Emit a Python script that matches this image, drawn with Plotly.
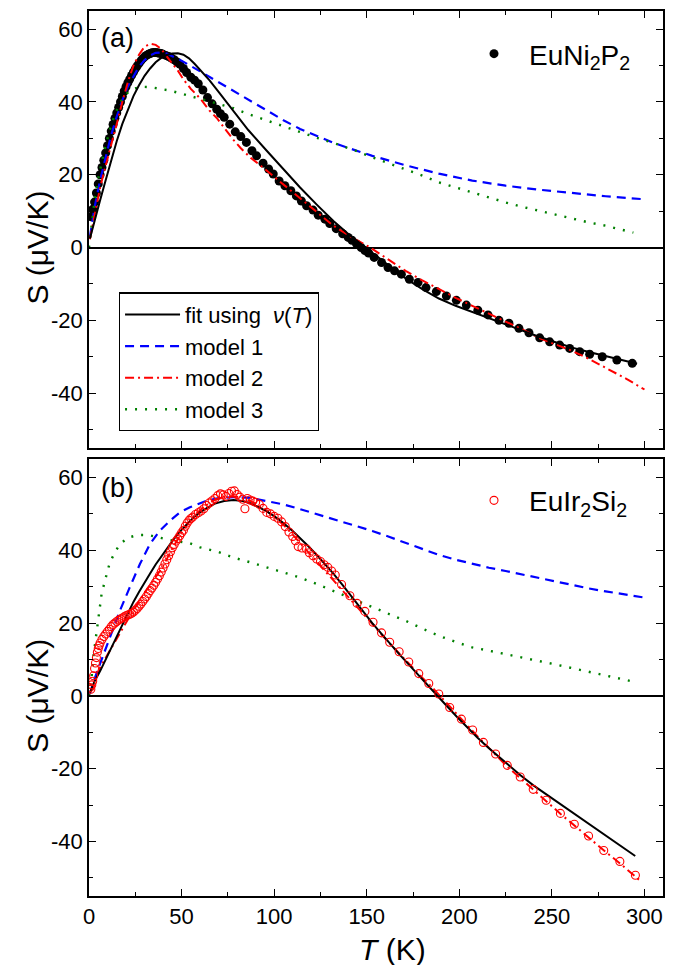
import plotly.graph_objects as go

# ---------------- Panel (a): EuNi2P2 ----------------
a_data_T = [1, 2, 3, 4, 5, 6, 7, 8, 9, 10, 11, 12, 13, 14, 15, 16, 17, 18, 19, 20,
            21, 22, 23, 24, 25, 26, 27, 28, 29, 30, 31, 32, 33, 34, 35, 36, 37, 38, 39, 40,
            41.5, 43, 44.5, 46, 47.5, 49, 51, 52.7, 55, 57, 59, 61.5, 64, 66.5, 69, 71, 73,
            76, 79, 82, 85, 88, 90.5, 94, 97, 99.5, 102.7, 105.8, 109, 112, 114.7, 117.5,
            121, 123.8, 127.4, 130, 133.5, 137, 140, 142, 144.5, 147, 149, 151, 154, 158,
            161.5, 165, 168.7, 173, 177.7, 182, 187.6, 193, 198.4, 203.8, 210, 215.5,
            221.4, 226.8, 232.2, 237.6, 243.4, 248.8, 254.2, 259.6, 265, 270.4, 277.2,
            285.1, 293.4]
a_data_S = [8.5, 10.5, 12.5, 15, 17.5, 20, 22, 24, 26, 28, 30, 32, 33.8, 35.5, 37, 38.5,
            40, 41.5, 43, 44.2, 45.3, 46.3, 47.3, 48.2, 49.1, 49.9, 50.6, 51.3, 51.9, 52.4,
            52.8, 53.1, 53.3, 53.5, 53.6, 53.6, 53.5, 53.4, 53.3, 53.1, 52.8, 52.5, 52.1,
            51.6, 51.0, 50.4, 49.2, 48.1, 46.8, 46.0, 45.0, 43.3, 41.2, 39.5, 38.0, 36.8,
            35.8, 33.9, 31.8, 30.5, 28.9, 26.6, 25.2, 23.2, 21.6, 20.2, 18.3, 17.0, 15.6,
            14.2, 12.8, 11.5, 10.3, 8.9, 7.8, 6.6, 5.2, 3.8, 2.8, 2.0, 1.0, 0.0, -0.8, -1.5,
            -2.7, -4.1, -5.5, -6.4, -7.3, -8.7, -9.6, -11.0, -12.1, -13.3, -14.5, -15.8,
            -17.2, -18.5, -20.0, -20.8, -22.2, -23.4, -24.8, -25.9, -26.8, -27.7, -28.6,
            -29.3, -30.0, -30.9, -31.8]

a_fit_T = [0.5, 3, 6, 9, 12, 15, 18, 21, 24, 27, 30, 33, 36, 39, 42, 45, 48, 51, 54, 57,
           60, 65, 70, 78, 86, 96, 105, 114, 123, 132, 141, 150, 160, 171, 180, 189, 198,
           207, 216, 225, 234, 243, 252, 261, 270, 279, 288, 296]
a_fit_S = [2.5, 7.5, 13, 18.5, 24, 29.3, 34, 38, 41.6, 44.6, 47.2, 49.2, 50.9, 52.1, 52.9,
           53.3, 53.4, 53.0, 52.0, 50.5, 48.8, 46.0, 42.8, 37.6, 32.3, 26.6, 21.4, 16.5,
           11.8, 7.3, 3.3, -0.2, -4.3, -8.5, -11.4, -14.0, -16.0, -17.7, -19.5, -21.3,
           -22.9, -24.5, -26.0, -27.5, -28.7, -29.8, -30.9, -31.9]

a_m1_T = [0.5, 3, 6, 9, 12, 15, 18, 21, 24, 27, 30, 33, 36, 39, 42, 45, 49, 54, 60, 70,
          78, 86, 96, 105, 114, 123, 132, 141, 153, 171, 189, 207, 225, 243, 261, 279, 299]
a_m1_S = [3, 11, 18.5, 24.5, 31, 36, 40.5, 44.3, 47.2, 49.7, 51.5, 52.8, 53.5, 53.6, 53.3,
          52.6, 51.6, 50.2, 48.4, 45.5, 43.1, 40.7, 37.7, 35.0, 32.6, 30.6, 28.8, 27.2,
          25.2, 22.6, 20.3, 18.4, 17.0, 15.9, 14.9, 14.1, 13.3]

a_m2_T = [0.5, 3, 6, 9, 12, 15, 18, 21, 24, 27, 30, 33, 36, 39, 42, 45, 48, 51, 55, 60,
          65, 69, 74, 78, 82, 87, 92, 96, 105, 114, 123, 132, 142, 152, 162, 171, 180, 189,
          198, 207, 216, 225, 234, 243, 252, 261, 270, 279, 290, 300]
a_m2_S = [2.3, 9, 16.5, 22.5, 28, 34, 40, 45.5, 50, 53, 55.2, 56, 55.7, 54.6, 52.5, 50.5,
          48.6, 46.2, 43.6, 41.0, 37.7, 35.6, 32.2, 29.6, 27.3, 24.8, 22.8, 21.1, 17.5,
          13.5, 9.7, 6.0, 2.8, 0.0, -3.4, -6.4, -9.0, -11.5, -13.8, -16.0, -18.1, -20.2,
          -22.5, -24.8, -26.6, -28.4, -30.6, -33.0, -36.0, -39.0]

a_m3_T = [0, 1.5, 3, 5, 8, 11, 14, 17, 20, 24, 28, 33, 38, 44, 50, 60, 70, 78, 87, 96,
          105, 114, 124, 134, 143, 153, 162, 171, 180, 189, 198, 207, 216, 225, 234, 243,
          252, 261, 270, 279, 287, 294]
a_m3_S = [0, 7, 13, 19, 26, 32, 36.7, 40, 42.2, 43.6, 44.2, 44.1, 43.7, 43.1, 42.3, 40.8,
          39.5, 38.3, 36.5, 34.9, 33.3, 31.6, 30.0, 28.4, 26.8, 24.8, 23.2, 21.6, 19.8,
          17.9, 16.5, 15.1, 13.7, 12.4, 11.2, 10.1, 8.9, 7.8, 6.9, 6.0, 5.0, 4.1]

# ---------------- Panel (b): EuIr2Si2 ----------------
b_data_T = [0.5, 1, 1.5, 2, 2.5, 3, 3.5, 4, 4.5, 5, 5.5, 6, 7, 8, 9, 10, 11, 12, 13, 14,
            15, 16, 17, 18, 19, 20, 21, 22, 23, 24, 25, 26, 27, 28, 29, 30, 31, 32, 33,
            34, 35, 36, 37, 38, 39, 40, 41, 42, 43, 44, 45, 46, 47, 48, 49, 50, 51, 52,
            53, 54, 55, 56, 57.5, 59, 60.5, 62, 63.5, 65, 66.5, 68, 69.5, 71, 72.5, 74,
            75.5, 77, 78.5, 80, 81.5, 83, 84.2, 85.5, 87, 88.5, 90, 92, 94, 96, 98, 100,
            102, 104, 106, 108, 110, 111.5, 113, 115, 117.5, 119, 121, 123, 125, 127,
            129, 131, 133, 136.4, 140.9, 144.8, 149, 153.4, 158, 162.4, 167.5, 172.7,
            178.1, 183.5, 188.9, 194.8, 201.1, 207.2, 213, 219.6, 225.9, 232.9, 239.9,
            246.9, 254.6, 262.1, 269.8, 278, 286.7, 295.1]
b_data_S = [2.3, 1.8, 3, 4, 5.5, 7.5, 9, 10.5, 12, 13, 13.8, 14.5, 15.5, 16.3, 17, 17.7,
            18.3, 19, 19.6, 20, 20.4, 20.8, 21.1, 21.4, 21.7, 22, 22.2, 22.4, 22.7, 23,
            23.5, 24, 24.6, 25.2, 25.9, 26.6, 27.3, 28.1, 28.9, 29.6, 30.4, 31.2, 32.1, 33,
            34, 35.1, 36.2, 37.4, 38.5, 39.6, 40.7, 41.6, 42.5, 43.2, 44, 44.8, 45.5, 46.6,
            47.5, 48.2, 48.7, 49.1, 49.8, 50.3, 50.8, 51.4, 52.3, 53, 53.6, 54.2, 55, 55.5,
            55.2, 54.8, 55.6, 56.2, 56.3, 55.3, 54.6, 54, 51.4, 54.2, 53.8, 53.5, 53.2, 52.6,
            51.5, 50.4, 50, 49.3, 48.8, 47.8, 46.5, 45, 43.8, 42.6, 41, 40.6, 40.3, 39.3,
            38.5, 37.6, 36.9, 36, 35.3, 34.3, 33.2, 30.6, 27.5, 25.4, 23.2, 20.2, 17.3,
            14.7, 12.1, 9.3, 6.1, 3.4, 0.5, -3.2, -6.4, -9.4, -12.8, -16, -19.1, -22.3,
            -25.7, -28.7, -32.3, -35.3, -38.5, -42.5, -45.5, -49.3]

b_fit_T = [0.5, 3, 6, 9, 12, 15, 18, 21, 24, 27, 30, 33, 36, 39, 42, 45, 48, 51, 54, 57,
           60, 64, 68, 73, 78, 83, 87, 91, 96, 100, 105, 110, 114, 118.5, 123, 127.5, 132,
           137, 142, 148, 153, 158, 163, 168, 172, 178, 183, 186, 192, 198.4, 204, 210,
           216, 222, 228, 233, 240, 248, 256, 264, 272, 280, 288, 295]
b_fit_S = [0.9, 4, 6.8, 10, 13, 16, 19.2, 22.5, 25.8, 28.5, 31.2, 33.6, 36.1, 38.3, 40.5,
           42.5, 44.5, 46.3, 47.8, 49.2, 50.4, 51.7, 52.8, 53.5, 53.8, 53.5, 52.9, 52.0,
           50.7, 49.4, 47.5, 45.3, 43.4, 41.1, 38.7, 36.2, 33.6, 30.4, 27.1, 23.3, 20.0,
           17.0, 14.0, 11.2, 9.0, 5.6, 2.8, 1.2, -2.1, -5.6, -8.6, -11.6, -14.4, -17.1,
           -19.7, -21.8, -24.6, -27.4, -30.2, -33.0, -35.8, -38.7, -41.5, -44.0]

b_m1_T = [0.5, 2.3, 5.9, 11.3, 16.7, 22, 27.5, 32.9, 38.3, 43.7, 49.1, 54.5, 63.5, 70, 78,
          87, 96, 105, 114, 124, 134, 143, 153, 162, 171, 180, 189, 198, 207, 216, 225,
          234, 243, 252, 261, 270, 279, 290, 300]
b_m1_S = [0.5, 3.7, 8.7, 16, 23.4, 29.8, 36.2, 41.7, 45.4, 48.1, 50.4, 51.8, 53.6, 54.3,
          54.6, 54.4, 53.6, 52.6, 51.3, 49.8, 48.2, 46.8, 45.3, 43.7, 42.0, 40.3, 38.7,
          37.4, 36.2, 35.2, 34.3, 33.3, 32.3, 31.3, 30.4, 29.5, 28.7, 27.8, 27.0]

b_m2_T = [0.5, 3, 6, 9, 12, 15, 18, 21, 24, 27, 30, 33, 36, 40, 45, 50, 55, 60, 65, 70, 75,
          80, 85, 90, 95, 100, 105, 110, 115, 120, 125, 130, 135, 140, 145, 150, 155, 160,
          165, 170, 175, 180, 185, 190, 195, 200, 205, 210, 215, 220, 225, 230, 235, 240,
          245, 250, 255, 260, 265, 270, 275, 280, 285, 290, 297]
b_m2_S = [0.9, 3, 7.8, 10.5, 13.3, 15.8, 18.5, 21, 23.5, 26, 28.3, 30.4, 32.6, 35.6, 40.5,
          44.8, 48.5, 51, 53, 54.3, 54.8, 54.7, 54, 52.8, 51.2, 49.2, 47, 44.3, 41.4, 38.5,
          35.8, 33, 30, 27, 24.3, 21.5, 18.5, 15.7, 13, 10.3, 7.7, 5, 2.5, -0.3, -3.2,
          -5.8, -8.5, -11.2, -13.8, -16.4, -19, -21.3, -23.6, -25.9, -28.2, -30.4, -32.6,
          -34.7, -36.9, -39, -41.2, -43.3, -45.3, -47.5, -50.5]

b_m3_T = [0, 1.4, 2.3, 3.2, 5, 6.8, 8.6, 11.3, 14, 16.7, 21.2, 26.6, 32, 38.3, 43.7, 54.5,
          60, 70, 78, 87, 96, 105, 114, 124, 134, 143, 153, 162, 171, 180, 189, 198, 207,
          216, 225, 234, 243, 252, 261, 270, 279, 287, 294]
b_m3_S = [0, 5, 10.5, 14.2, 21.5, 28, 31.6, 36.7, 39.4, 41.7, 43.5, 44.2, 44.2, 43.5, 42.8,
          41.9, 40.8, 39.5, 38, 36.7, 35.3, 33.9, 32.5, 30.5, 28.4, 26.3, 24.3, 22.4, 20.6,
          18.5, 16.5, 14.8, 13.3, 12.4, 11.5, 10.5, 9.6, 8.6, 7.6, 6.6, 5.7, 4.8, 3.9]

x_ticks = [0, 50, 100, 150, 200, 250, 300]
y_ticks = [-40, -20, 0, 20, 40, 60]
y_ticktext = [str(v) for v in y_ticks]  # plain hyphen-minus as in the original

FONT = "Arial, Liberation Sans, sans-serif"
BLUE = "#0000ff"
RED = "#ff0000"
GREEN = "#008000"

fig = go.Figure()


def add_lines(T_fit, S_fit, T1, S1, T2, S2, T3, S3, xa, ya, show):
    fig.add_trace(go.Scatter(x=T1, y=S1, mode="lines", name="model 1", xaxis=xa, yaxis=ya,
                             line=dict(color=BLUE, width=2.2, dash="9px,6px"),
                             showlegend=show, legend="legend", legendrank=2))
    fig.add_trace(go.Scatter(x=T3, y=S3, mode="lines", name="model 3", xaxis=xa, yaxis=ya,
                             line=dict(color=GREEN, width=2.4, dash="2px,8px"),
                             showlegend=show, legend="legend", legendrank=4))
    fig.add_trace(go.Scatter(x=T2, y=S2, mode="lines", name="model 2", xaxis=xa, yaxis=ya,
                             line=dict(color=RED, width=2, dash="9px,4px,2px,4px"),
                             showlegend=show, legend="legend", legendrank=3))
    fig.add_trace(go.Scatter(x=T_fit, y=S_fit, mode="lines",
                             name="fit using  <i>ν</i>(<i>T</i>)", xaxis=xa, yaxis=ya,
                             line=dict(color="black", width=2),
                             showlegend=show, legend="legend", legendrank=1))


# panel (a)
fig.add_trace(go.Scatter(x=a_data_T, y=a_data_S, mode="markers",
                         name="EuNi<sub>2</sub>P<sub>2</sub>", xaxis="x", yaxis="y",
                         marker=dict(color="black", size=9), legend="legend2"))
add_lines(a_fit_T, a_fit_S, a_m1_T, a_m1_S, a_m2_T, a_m2_S, a_m3_T, a_m3_S, "x", "y", True)

# panel (b)
add_lines(b_fit_T, b_fit_S, b_m1_T, b_m1_S, b_m2_T, b_m2_S, b_m3_T, b_m3_S, "x2", "y2", False)
fig.add_trace(go.Scatter(x=b_data_T, y=b_data_S, mode="markers",
                         name="EuIr<sub>2</sub>Si<sub>2</sub>", xaxis="x2", yaxis="y2",
                         marker=dict(color="rgba(0,0,0,0)", size=8,
                                     line=dict(color=RED, width=1.1)),
                         legend="legend3"))

axis_common = dict(showline=True, linecolor="black", linewidth=1.6, mirror="ticks",
                   ticks="inside", ticklen=7, tickwidth=1.4, tickcolor="black",
                   showgrid=False, tickfont=dict(family=FONT, size=22, color="black"))

xa = dict(axis_common, range=[0, 310], tickvals=x_ticks, zeroline=False,
          minor=dict(ticks="inside", ticklen=4, tickwidth=1.4, dtick=25, tick0=0,
                     tickcolor="black", showgrid=False))
ya = dict(axis_common, range=[-55, 65], tickvals=y_ticks, ticktext=y_ticktext,
          zeroline=True, zerolinecolor="black", zerolinewidth=1.6,
          minor=dict(ticks="inside", ticklen=4, tickwidth=1.4, dtick=10, tick0=0,
                     tickcolor="black", showgrid=False))

TITLE_FONT = dict(family=FONT, size=30, color="black")

fig.update_layout(
    width=663, height=957,
    margin=dict(l=81, r=8, t=1, b=69),
    paper_bgcolor="white", plot_bgcolor="white",
    font=dict(family=FONT, color="black"),
    xaxis=dict(xa, domain=[0, 1], anchor="y", showticklabels=False),
    yaxis=dict(ya, domain=[0.5065, 1], anchor="x"),
    xaxis2=dict(xa, domain=[0, 1], anchor="y2", matches="x"),
    yaxis2=dict(ya, domain=[0, 0.4935], anchor="x2"),
    legend=dict(x=0.052, y=0.682, xanchor="left", yanchor="top",
                bordercolor="black", borderwidth=1.2, bgcolor="white",
                font=dict(family=FONT, size=22, color="black"),
                itemwidth=55, tracegroupgap=0, traceorder="normal"),
    legend2=dict(x=0.6446, y=0.9797, xanchor="left", yanchor="top",
                 bgcolor="rgba(0,0,0,0)", borderwidth=0,
                 font=dict(family=FONT, size=28, color="black"), itemwidth=60),
    legend3=dict(x=0.6446, y=0.475, xanchor="left", yanchor="top",
                 bgcolor="rgba(0,0,0,0)", borderwidth=0,
                 font=dict(family=FONT, size=28, color="black"), itemwidth=60),
    annotations=[
        dict(text="(a)", xref="x domain", yref="y domain", x=0.018, y=0.938,
             xanchor="left", yanchor="middle", showarrow=False,
             font=dict(family=FONT, size=27, color="black")),
        dict(text="(b)", xref="x2 domain", yref="y2 domain", x=0.018, y=0.934,
             xanchor="left", yanchor="middle", showarrow=False,
             font=dict(family=FONT, size=27, color="black")),
        dict(text="S (μV/K)", xref="paper", yref="y", x=-0.0889, y=0,
             xanchor="center", yanchor="middle", textangle=-90, showarrow=False,
             font=TITLE_FONT),
        dict(text="S (μV/K)", xref="paper", yref="y2", x=-0.0889, y=0,
             xanchor="center", yanchor="middle", textangle=-90, showarrow=False,
             font=TITLE_FONT),
        dict(text="<i>T</i> (K)", xref="paper", yref="paper", x=0.528, y=-0.0609,
             xanchor="center", yanchor="middle", showarrow=False,
             font=TITLE_FONT),
    ],
)

fig.write_html("out.html")
